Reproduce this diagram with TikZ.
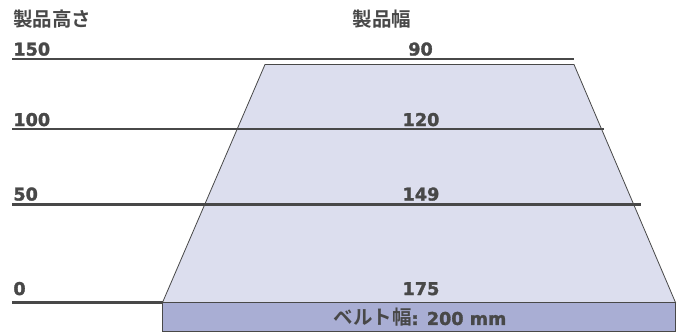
\documentclass[tikz,border=0pt]{standalone}
\usepackage{fontspec}
\setmainfont{DejaVu Sans}[BoldFeatures = {FakeBold = 1.8}]
\newfontfamily\jpfont{Noto Sans CJK JP}[BoldFont = * Bold]
\usepackage{tikz}
\usetikzlibrary{positioning}
\definecolor{txtgray}{RGB}{72,72,72}
\definecolor{prodfill}{RGB}{220,222,238}
\definecolor{beltfill}{RGB}{169,174,212}

\begin{document}
\begin{tikzpicture}[
            x = 1pt, y = -1pt, % pixel grid, y downwards
            line width = 0.8pt % outline style
        ]

        \tikzstyle{level}=[
            draw = txtgray,
            line width = 2.5pt
        ]
        \tikzstyle{num}=[
            text = txtgray,
            inner sep = 0pt,
            font = \fontsize{17.6}{18}\selectfont\bfseries
        ]
        \tikzstyle{head}=[
            text = txtgray,
            inner sep = 0pt,
            font = \fontsize{19.5}{20}\selectfont\jpfont\bfseries
        ]

        \useasboundingbox (0,0) rectangle (680,333);

	% product and belt
        \coordinate (TL) at (265,64.5);
        \coordinate (TR) at (574,64.5);
        \coordinate (BL) at (162.5,302.5);
        \coordinate (BR) at (675.5,302.5);
        \coordinate (BB) at (675.5,331);

        \draw[fill = prodfill, draw = txtgray] (BL) -- (TL) -- (TR) -- (BR) -- cycle;
        \draw[fill = beltfill, draw = txtgray] (BL) rectangle (BB);

	% height levels
        \coordinate (L150) at (12,59);
        \coordinate (R150) at (574,59);
        \coordinate (L100) at (12,129);
        \coordinate (R100) at (603.5,129);
        \coordinate (L50) at (12,204.7);
        \coordinate (R50) at (641,204.7);
        \coordinate (L0) at (12,302.5);

        \draw[level] (L150) -- (R150);
        \draw[level] (L100) -- (R100);
        \draw[level] (L50) -- (R50);
        \draw[level] (L0) -- (BL);

	% headings
        \node[head, anchor = west] (hgt) at (13,19) {製品高さ};
        \node[head] (wid) at (382,19) {製品幅};

	% heights
        \node[num, anchor = base west] (h150) at (13,55.5) {150};
        \node[num, anchor = base west] (h100) at (13,126) {100};
        \node[num, anchor = base west] (h50) at (13,200.5) {50};
        \node[num, anchor = base west] (h0) at (13,295) {0};

	% widths
        \node[num, anchor = base] (w90) at (420.5,55.5) {90};
        \node[num, anchor = base] (w120) at (421,126) {120};
        \node[num, anchor = base] (w149) at (421,200.5) {149};
        \node[num, anchor = base] (w175) at (421,295) {175};

	% belt
        \node[num] (belt) at (420,317.5) {{\fontsize{19.5}{20}\selectfont\jpfont\bfseries ベルト幅}: 200 mm};

  \end{tikzpicture}
\end{document}
